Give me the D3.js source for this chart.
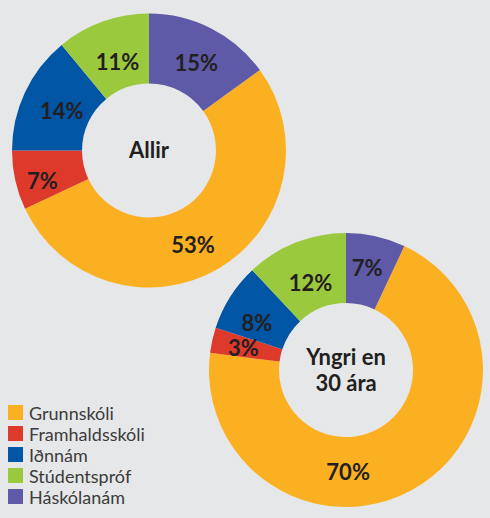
<!DOCTYPE html>
<html>
<head>
<meta charset="utf-8">
<script src="https://cdn.jsdelivr.net/npm/d3@7"></script>
<style>
  html, body { margin: 0; padding: 0; background: #e6e7e8; }
  svg { display: block; }
</style>
</head>
<body>
<svg id="chart" width="490" height="518"></svg>
<script>
// ---- data ----
const categories = ["Grunnskóli", "Framhaldsskóli", "Iðnnám", "Stúdentspróf", "Háskólanám"];
const colors = ["#fbb022", "#de3a2b", "#0055a4", "#9bc93e", "#5f5aa7"];
// drawing order (clockwise from 12 o'clock)
const sliceOrder = ["Háskólanám", "Grunnskóli", "Framhaldsskóli", "Iðnnám", "Stúdentspróf"];
const chartTitles = [["Allir"], ["Yngri en", "30 ára"]];
const valuesAllir = [53, 7, 14, 11, 15];   // per category
const valuesYngri = [70, 3, 8, 12, 7];     // per category

// ---- layout ----
const svg = d3.select("#chart");
const color = d3.scaleOrdinal().domain(categories).range(colors);
const outerR = 137, innerR = 67;
const charts = [
  { values: valuesAllir, cx: 149, cy: 150.5, title: chartTitles[0],
    nudge: { "Háskólanám": [1, 3], "Grunnskóli": [-8, 7], "Framhaldsskóli": [-7, 8], "Iðnnám": [5, 4], "Stúdentspróf": [3, 8] } },
  { values: valuesYngri, cx: 346, cy: 370, title: chartTitles[1],
    nudge: { "Háskólanám": [-1, -2], "Grunnskóli": [-47, 13], "Framhaldsskóli": [-3, 0], "Iðnnám": [-3, 8], "Stúdentspróf": [2, 8] } }
];

const pie = d3.pie()
  .sort((a, b) => sliceOrder.indexOf(a.cat) - sliceOrder.indexOf(b.cat))
  .value(d => d.v);
const arc = d3.arc().innerRadius(innerR).outerRadius(outerR);
const labelArc = d3.arc().innerRadius(102).outerRadius(102);

charts.forEach(c => {
  const data = categories.map((cat, i) => ({ cat, v: c.values[i] }));
  const g = svg.append("g").attr("transform", `translate(${c.cx},${c.cy})`);
  const arcs = pie(data);
  g.selectAll("path.slice").data(arcs).join("path")
    .attr("class", "slice")
    .attr("d", arc)
    .attr("fill", d => color(d.data.cat));
  g.selectAll("text.lbl").data(arcs).join("text")
    .attr("class", "lbl")
    .attr("transform", d => {
      const [x, y] = labelArc.centroid(d);
      const n = c.nudge[d.data.cat] || [0, 0];
      return `translate(${x + n[0]},${y + n[1]})`;
    })
    .attr("dy", "0.36em")
    .attr("text-anchor", "middle")
    .attr("font-family", "Lato, 'Open Sans', sans-serif")
    .attr("font-weight", 700)
    .attr("font-size", 22)
    .attr("fill", "#231f20")
    .text(d => d.data.v + "%");
  const lh = 26;
  const t = g.append("text")
    .attr("text-anchor", "middle")
    .attr("font-family", "Lato, 'Open Sans', sans-serif")
    .attr("font-weight", 700)
    .attr("font-size", 22)
    .attr("fill", "#231f20");
  c.title.forEach((line, i) => {
    t.append("tspan")
      .attr("x", 0)
      .attr("y", (i - (c.title.length - 1) / 2) * lh)
      .attr("dy", "0.36em")
      .text(line);
  });
});

// ---- legend ----
const legend = svg.append("g").attr("transform", "translate(8,405)");
const rows = legend.selectAll("g").data(categories).join("g")
  .attr("transform", (d, i) => `translate(0,${i * 21})`);
rows.append("rect").attr("width", 15).attr("height", 15).attr("fill", d => color(d));
rows.append("text")
  .attr("x", 21).attr("y", 15)
  .attr("font-family", "Lato, 'Open Sans', sans-serif")
  .attr("font-size", 18)
  .attr("fill", "#3c3c3c")
  .text(d => d);
</script>
</body>
</html>
